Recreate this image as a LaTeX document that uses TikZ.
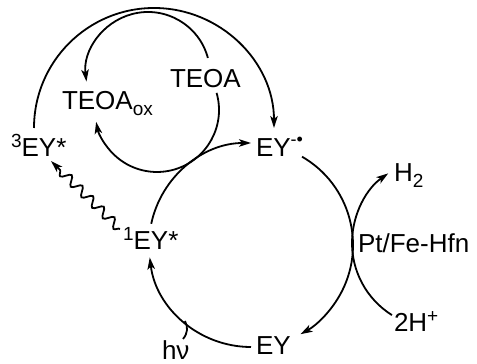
\documentclass[tikz,border=0pt]{standalone}
\usepackage{fontspec}
\setmainfont{Liberation Sans}
\usetikzlibrary{arrows.meta,decorations.pathmorphing}
\newcommand{\supx}[1]{\raisebox{9.5pt}{\fontsize{19}{19}\selectfont #1}}
\newcommand{\subx}[1]{\raisebox{-6pt}{\fontsize{19}{19}\selectfont #1}}
\newcommand{\radx}{\raisebox{11pt}{\fontsize{18}{18}\selectfont -•}}
\begin{document}
\begin{tikzpicture}[x=1pt,y=1pt,
  line width=1.8pt,
  arr/.style={-{Stealth[length=12pt,width=7.5pt,inset=3pt]}},
  lbl/.style={anchor=base west, inner sep=0pt, outer sep=0pt, font=\fontsize{26}{30}\selectfont},
  wavy/.style={decorate, decoration={snake, amplitude=4.5pt, segment length=15pt, post length=11pt}}]
\useasboundingbox (0,0) rectangle (477,364);
% centres of the arcs
\coordinate (mc) at (251,119);
\coordinate (oc) at (154,236);
\coordinate (uc) at (148,290);
\coordinate (lc) at (157,254);
\coordinate (hc) at (437,121);
% labels
\node[lbl] (teoa) at (170,276.7) {TEOA};
\node[lbl] (teoaox) at (62,254) {TEOA\subx{ox}};
\node[lbl] (ey3) at (11,207) {\supx{3}EY*};
\node[lbl] (eyrad) at (256,207) {EY\radx};
\node[lbl] (h2) at (394,182) {H\subx{2}};
\node[lbl] (cat) at (358,111) {Pt/Fe-Hfn};
\node[lbl] (ey1) at (123,114) {\supx{1}EY*};
\node[lbl] (hplus) at (394,32) {2H\supx{+}};
\node[lbl] (ey) at (256,9) {EY};
\node[lbl] (hv) at (162,4) {hν};
% main cycle
\draw[arr] ([shift={(168:102)}]mc) arc[start angle=168, end angle=90, radius=102];
\draw[arr] ([shift={(60:102)}]mc) arc[start angle=60, end angle=-61, radius=102];
\draw[arr] ([shift={(270:102)}]mc) arc[start angle=270, end angle=187, radius=102];
% outer arc 3EY* -> EY-.
\draw[arr] ([shift={(180:120)}]oc) arc[start angle=180, end angle=0, radius=120];
% TEOA cycle
\draw[arr] ([shift={(15:62)}]uc) arc[start angle=15, end angle=187, radius=62];
\draw[arr] ([shift={(16:62)}]lc) arc[start angle=16, end angle=-169, radius=62];
% 2H+ -> H2
\draw[arr] ([shift={(238:85)}]hc) arc[start angle=238, end angle=125, radius=85];
% h nu
\coordinate (hvtop) at (183,25);
\draw (hvtop) .. controls (188,31) and (188,37) .. (185,43);
% intersystem crossing
\coordinate (iscA) at (120,135);
\coordinate (iscB) at (51,203);
\draw[arr, wavy] (iscA) -- (iscB);
\end{tikzpicture}
\end{document}
